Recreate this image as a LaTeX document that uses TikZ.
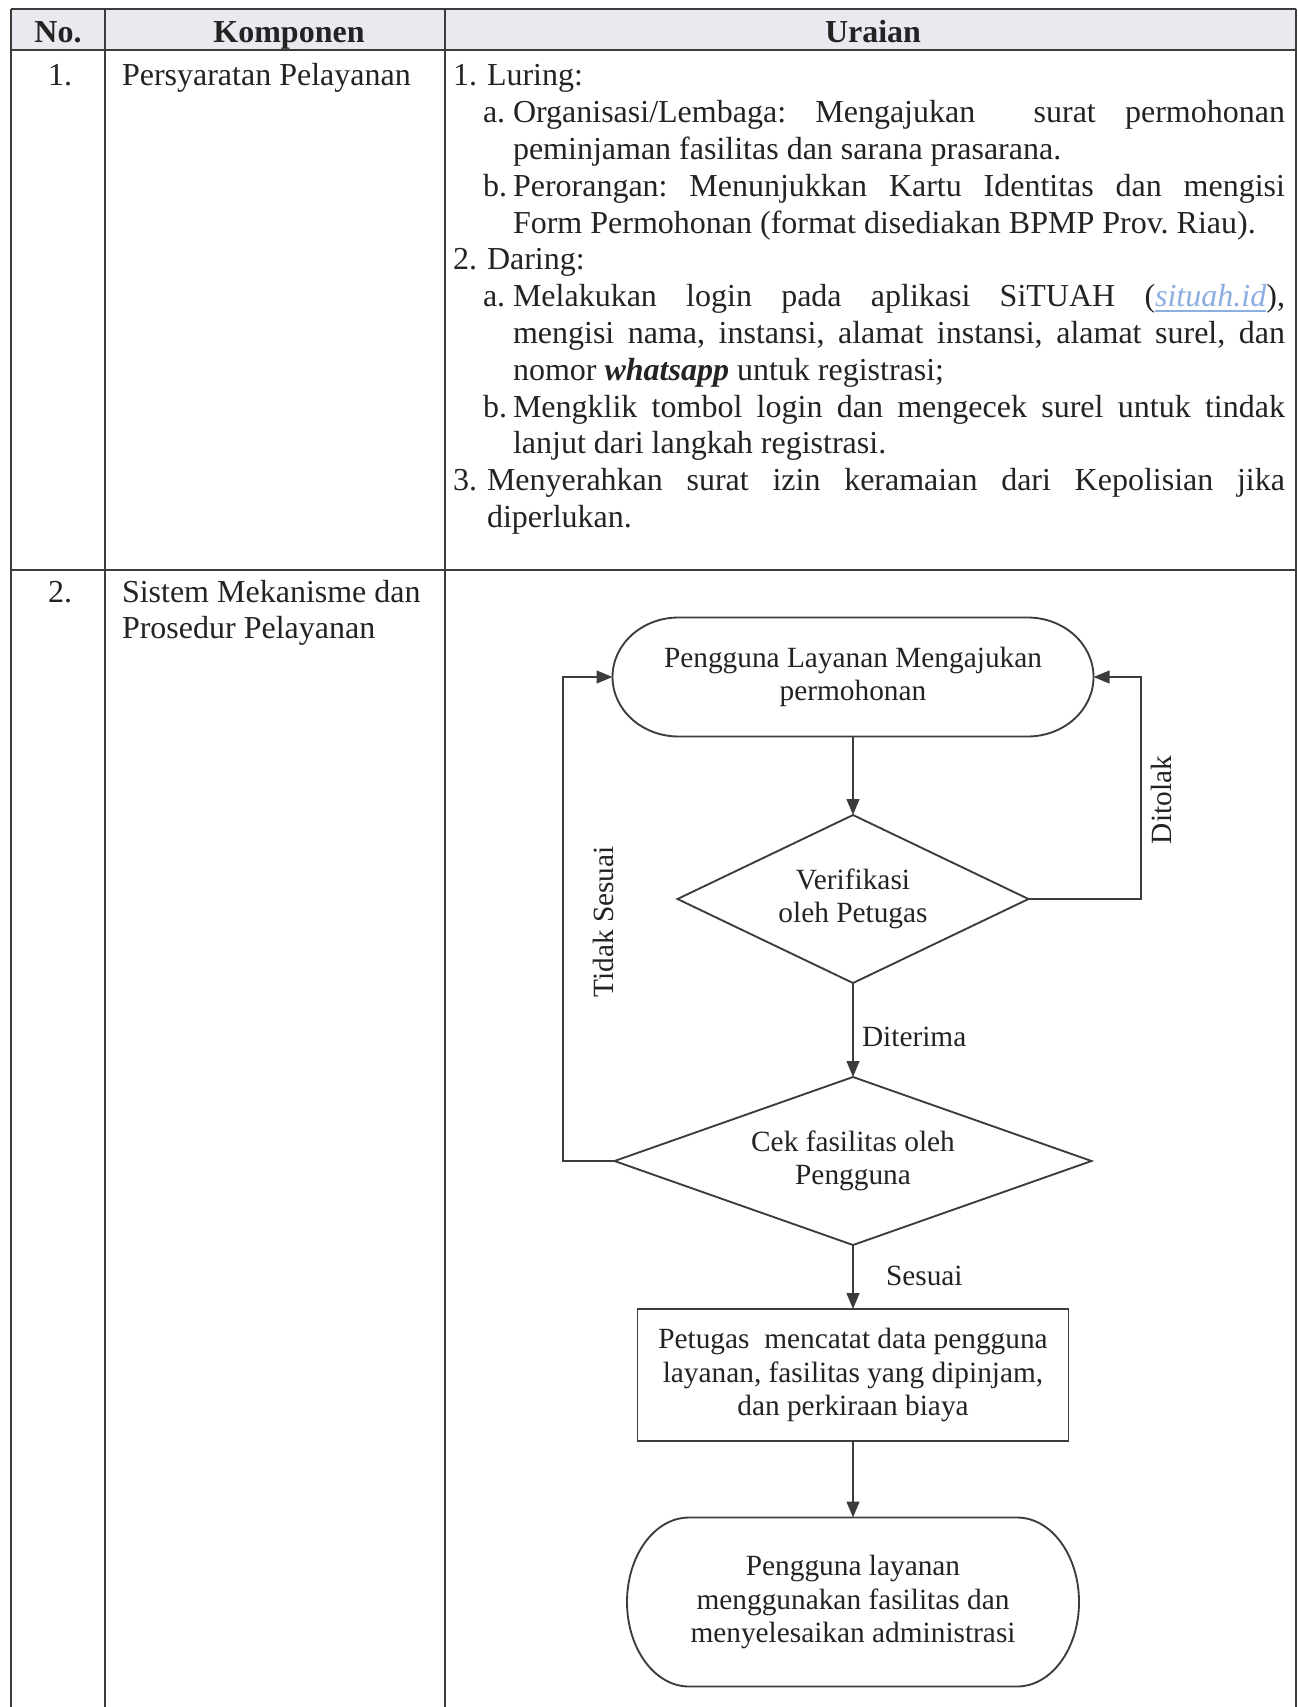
\documentclass[tikz,border=0pt]{standalone}
\usepackage{fontspec}
\setmainfont{Liberation Serif}
\usetikzlibrary{arrows.meta}
\definecolor{hdr}{RGB}{233,233,239}
\definecolor{linkblue}{RGB}{140,175,225}
\definecolor{ln}{RGB}{60,60,60}
\definecolor{ink}{RGB}{35,35,35}
\frenchspacing
\tolerance=10000
\hbadness=10000
\hyphenpenalty=10000
\newcommand\termshape[5]{% x1 y1 x2 y2 rx  (px units)
  \draw[fline] ({#1+#5},#2) -- ({#3-#5},#2)
    .. controls ({#3-0.4477*#5},#2) and (#3,{(#2+#4)/2-0.5523*(#4-#2)/2}) .. (#3,{(#2+#4)/2})
    .. controls (#3,{(#2+#4)/2+0.5523*(#4-#2)/2}) and ({#3-0.4477*#5},#4) .. ({#3-#5},#4)
    -- ({#1+#5},#4)
    .. controls ({#1+0.4477*#5},#4) and (#1,{(#2+#4)/2+0.5523*(#4-#2)/2}) .. (#1,{(#2+#4)/2})
    .. controls (#1,{(#2+#4)/2-0.5523*(#4-#2)/2}) and ({#1+0.4477*#5},#2) .. ({#1+#5},#2) -- cycle;}
\newcommand\lnk[1]{\textcolor{linkblue}{\underline{\textit{#1}}}}
\begin{document}
\begin{tikzpicture}[x=0.375pt,y=-0.375pt,
  tline/.style={draw=ln,line width=0.75pt},
  fline/.style={draw=ln,line width=0.7pt},
  arr/.style={fline,-{Triangle[length=6pt,width=4.8pt]}},
  hd/.style={font=\fontsize{12}{13.8}\selectfont\bfseries,text=ink,inner sep=0pt,outer sep=0pt,anchor=base},
  body/.style={font=\fontsize{12}{13.8}\selectfont,text=ink,inner sep=0pt,outer sep=0pt,anchor=base west},
  para/.style={body,align=justify},
  fc/.style={font=\fontsize{11}{12.6}\selectfont,text=ink,align=center,inner sep=0pt,outer sep=0pt},
  lbl/.style={font=\fontsize{11}{12.6}\selectfont,text=ink,inner sep=0pt,outer sep=0pt}
]
\useasboundingbox (0,0) rectangle (1297,1707);
\fill[white] (0,0) rectangle (1297,1707);

% ---------------- table ----------------
\fill[hdr] (11,9) rectangle (1296,50);
\draw[tline] (11,9) -- (1296,9);
\draw[tline] (11,50) -- (1296,50);
\draw[tline] (11,570) -- (1296,570);
\draw[tline] (11,9) -- (11,1707);
\draw[tline] (105,9) -- (105,1707);
\draw[tline] (445,9) -- (445,1707);
\draw[tline] (1296,9) -- (1296,1707);

\node[hd] (hno) at (58,43) {No.};
\node[hd] (hkomp) at (289,43) {Komponen};
\node[hd] (hur) at (873,43) {Uraian};

% row 1
\node[body,anchor=base] (r1no) at (60,86) {1.};
\node[body] (r1k) at (122,86) {Persyaratan Pelayanan};

\node[body] (n1) at (453,86) {1.};
\node[body] (t1) at (487,86) {Luring:};
\node[body] (n1a) at (483,122.8) {a.};
\node[para,text width=289.5pt] (p1a) at (513,122.8)
  {Organisasi/Lembaga: Mengajukan~ surat permohonan\linebreak peminjaman fasilitas dan sarana prasarana.};
\node[body] (n1b) at (483,196.4) {b.};
\node[para,text width=289.5pt] (p1b) at (513,196.4)
  {Perorangan: Menunjukkan Kartu Identitas dan mengisi\linebreak Form Permohonan (format disediakan BPMP Prov. Riau).};
\node[body] (n2) at (453,270) {2.};
\node[body] (t2) at (487,270) {Daring:};
\node[body] (n2a) at (483,306.8) {a.};
\node[para,text width=289.5pt] (p2a) at (513,306.8)
  {Melakukan login pada aplikasi SiTUAH (\lnk{situah.id}),\linebreak mengisi nama, instansi, alamat instansi, alamat surel, dan\linebreak nomor \textbf{\textit{whatsapp}} untuk registrasi;};
\node[body] (n2b) at (483,417.2) {b.};
\node[para,text width=289.5pt] (p2b) at (513,417.2)
  {Mengklik tombol login dan mengecek surel untuk tindak\linebreak lanjut dari langkah registrasi.};
\node[body] (n3) at (453,490.8) {3.};
\node[para,text width=299.25pt] (p3) at (487,490.8)
  {Menyerahkan surat izin keramaian dari Kepolisian jika\linebreak diperlukan.};

% row 2
\node[body,anchor=base] (r2no) at (60,602) {2.};
\node[body] (r2k1) at (122,602) {Sistem Mekanisme dan};
\node[body] (r2k2) at (122,638.8) {Prosedur Pelayanan};

% ---------------- flowchart ----------------
\node[fc,minimum width=180.375pt,minimum height=44.625pt] (T1) at (853,677)
  {Pengguna Layanan Mengajukan\\permohonan};
\termshape{612.5}{617.5}{1093.5}{736.5}{66}

\node[fc,minimum width=131.625pt,minimum height=63pt] (D1) at (853,899)
  {Verifikasi\\oleh Petugas};
\draw[fline] (D1.north) -- (D1.east) -- (D1.south) -- (D1.west) -- cycle;

\node[fc,minimum width=178.875pt,minimum height=63pt] (D2) at (853,1161)
  {Cek fasilitas oleh\\Pengguna};
\draw[fline] (D2.north) -- (D2.east) -- (D2.south) -- (D2.west) -- cycle;

\node[fc,draw=ln,line width=0.7pt,minimum width=161.625pt,minimum height=49.5pt] (R) at (853,1375)
  {Petugas\ \ mencatat data pengguna\\layanan, fasilitas yang dipinjam,\\dan perkiraan biaya};

\node[fc,minimum width=169.5pt,minimum height=63.375pt] (T2) at (853,1602)
  {Pengguna layanan\\menggunakan fasilitas dan\\menyelesaikan administrasi};
\termshape{627}{1517.5}{1079}{1686.5}{62}

\coordinate (dtk) at (1141,677);
\coordinate (tsk) at (563,677);

\draw[arr] (T1.south) -- (D1.north);
\draw[arr] (D1.south) -- (D2.north);
\draw[arr] (D2.south) -- (R.north);
\draw[arr] (R.south) -- (T2.north);
\draw[arr] (D1.east) -| (dtk) -- (T1.east);
\draw[arr] (D2.west) -| (tsk) -- (T1.west);

\node[lbl,rotate=90] (ldt) at (1161,800) {Ditolak};
\node[lbl,rotate=90] (lts) at (603,922) {Tidak Sesuai};
\node[lbl,anchor=west] (ldi) at (862,1037) {Diterima};
\node[lbl,anchor=west] (lse) at (886,1276) {Sesuai};
\end{tikzpicture}
\end{document}
